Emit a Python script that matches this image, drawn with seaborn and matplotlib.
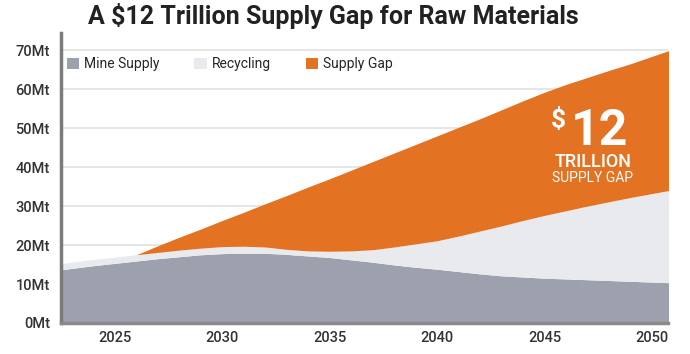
import numpy as np
import matplotlib
matplotlib.use("Agg")
import matplotlib.pyplot as plt
from matplotlib.patches import Patch
import seaborn as sns

# values (Mt)
years = list(range(2022, 2052))
mine_supply = [13.3, 14.0, 14.7, 15.3, 15.9, 16.5, 17.0, 17.5, 17.8, 17.9,
               17.9, 17.6, 17.2, 16.8, 16.2, 15.6, 14.9, 14.3, 13.8, 13.2,
               12.6, 12.1, 11.8, 11.5, 11.3, 11.1, 10.9, 10.7, 10.5, 10.3]
# top of the recycling band (mine + recycling)
with_recycling = [14.9, 15.6, 16.3, 16.9, 17.5, 18.1, 18.7, 19.2, 19.6, 19.7,
                  19.5, 18.9, 18.5, 18.4, 18.5, 18.8, 19.5, 20.3, 21.1, 22.3,
                  23.6, 24.9, 26.3, 27.6, 28.8, 30.0, 31.1, 32.2, 33.2, 34.2]
# total demand (top of the supply gap)
demand = [None, None, None, None, 17.5, 19.8, 22.0, 24.1, 26.3, 28.4,
          30.6, 32.7, 34.9, 37.0, 39.2, 41.4, 43.6, 45.8, 48.0, 50.2,
          52.4, 54.7, 57.0, 59.2, 61.2, 63.0, 64.8, 66.5, 68.4, 70.3]

y_ticks = [0, 10, 20, 30, 40, 50, 60, 70]
y_labels = [f"{v}Mt" for v in y_ticks]
x_ticks = [2025, 2030, 2035, 2040, 2045, 2050]
series_names = ["Mine Supply", "Recycling", "Supply Gap"]
colors = ["#9ca1ad", "#e9eaee", "#e37222"]

sns.set_theme(style="white")
plt.rcParams['font.family'] = ['Roboto', 'DejaVu Sans']

fig = plt.figure(figsize=(6.9, 3.54), dpi=100)
ax = fig.add_axes([61/690, 1-323/354, 607/690, 290/354])

yrs = np.array(years, dtype=float)
mine = np.array(mine_supply, dtype=float)
rec = np.array(with_recycling, dtype=float)
dem = np.array([np.nan if v is None else v for v in demand], dtype=float)

ax.fill_between(yrs, 0, mine, color=colors[0], lw=0, zorder=2)
ax.fill_between(yrs, mine, rec, color=colors[1], lw=0, zorder=2)
ax.fill_between(yrs, rec, dem, where=~np.isnan(dem), color=colors[2], lw=0, zorder=2)

ax.set_xlim(2022.5, 2050.75)
ax.set_ylim(0, 74.4)
ax.set_yticks(y_ticks)
ax.set_yticklabels(y_labels)
ax.set_xticks(x_ticks)
ax.set_xticklabels([str(x) for x in x_ticks])
ax.tick_params(axis='both', length=0, labelsize=10.5, labelcolor="#333333")
ax.tick_params(axis='x', pad=6)
ax.tick_params(axis='y', pad=8)
for lab in ax.get_xticklabels() + ax.get_yticklabels():
    lab.set_fontweight('medium')
ax.grid(axis='y', color="#e2e2e2", lw=1.2, zorder=0)
ax.grid(axis='x', visible=False)

sns.despine(ax=ax, top=True, right=True)
ax.spines['left'].set_color("#7b7b7b")
ax.spines['left'].set_linewidth(2.5)
ax.spines['bottom'].set_color("#8a8a8a")
ax.spines['bottom'].set_linewidth(2.5)
ax.spines['bottom'].set_zorder(3)

handles = [Patch(facecolor=c, edgecolor='none') for c in colors]
ax.legend(handles, series_names, loc='upper left', bbox_to_anchor=(-0.004, 0.945),
          ncol=3, frameon=False, fontsize=10, handlelength=0.9, handleheight=0.9,
          handletextpad=0.35, columnspacing=2.5, borderaxespad=0.2)

fig.text(0.483, 0.955, "A $12 Trillion Supply Gap for Raw Materials", ha='center',
         va='center', fontsize=18, fontweight='bold', color="#222222")

ax.text(0.82, 0.677, "$", transform=ax.transAxes, ha='center', va='baseline',
        fontsize=19, fontweight='bold', color='white', zorder=5)
ax.text(0.888, 0.614, "12", transform=ax.transAxes, ha='center', va='baseline',
        fontsize=36, fontweight='bold', color='white', zorder=5)
ax.text(0.876, 0.539, "TRILLION", transform=ax.transAxes, ha='center', va='baseline',
        fontsize=13, fontweight='medium', color='white', zorder=5)
ax.text(0.876, 0.486, "SUPPLY GAP", transform=ax.transAxes, ha='center', va='baseline',
        fontsize=10, color='white', zorder=5)

fig.savefig("out.png", dpi=100)
